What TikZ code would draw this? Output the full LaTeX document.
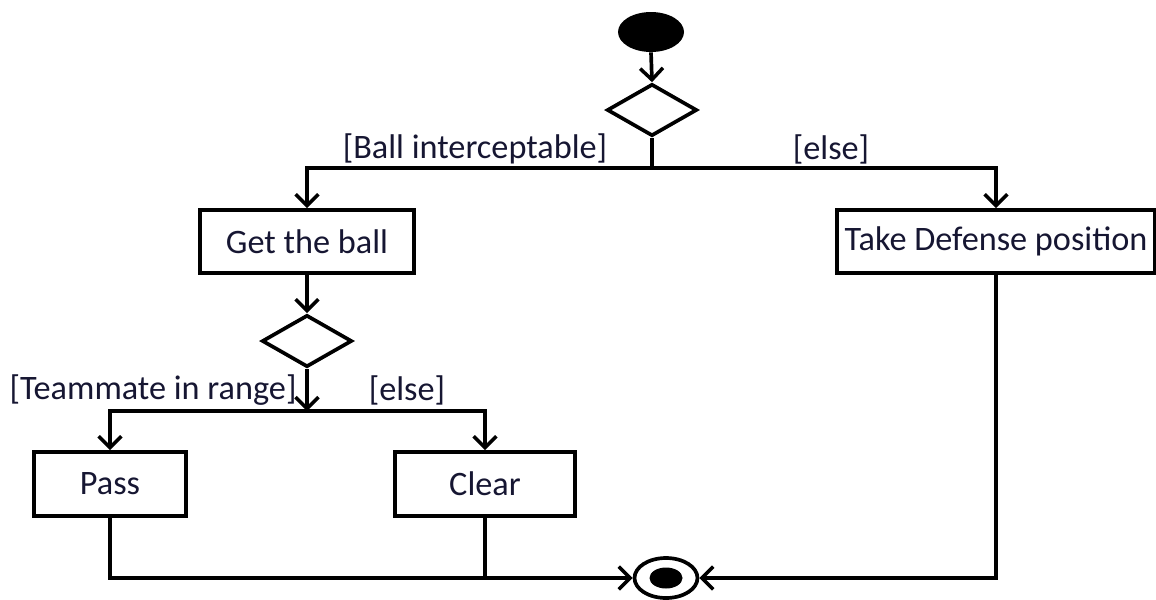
\documentclass[tikz,border=0pt]{standalone}
\usepackage{fontspec}
\setmainfont{Carlito}
\usepackage{tikz}
\usepackage{xcolor}
\usetikzlibrary{shapes.geometric,arrows.meta}

\definecolor{guardcol}{RGB}{22,22,50}
\tikzset{
    action/.style={draw, rectangle, line width=2.1pt, minimum height=1.26cm, inner xsep=2pt, font=\fontsize{19.5}{23}\selectfont, text=guardcol},
    decision/.style={draw, diamond, line width=2.1pt, minimum width=1.8cm, minimum height=1.04cm, inner sep=0pt},
    guard/.style={font=\fontsize{19.5}{23}\selectfont, text=guardcol, inner sep=0pt},
    wire/.style={line width=2.1pt},
    flow/.style={line width=2.1pt, -{Straight Barb[length=6.5pt,width=13pt,line width=2pt]}}
}

\begin{document}
\begin{tikzpicture}[x=0.02cm, y=-0.02cm]
    \useasboundingbox (0,0) rectangle (1156,599);

    % Draw the initial and final states
    \node[ellipse, fill=black, minimum width=1.32cm, minimum height=0.8cm] (start) at (651,32) {};
    \node[ellipse, draw, line width=2.1pt, minimum width=1.26cm, minimum height=0.8cm] (final) at (666,578) {};
    \node[ellipse, fill=black, minimum width=0.66cm, minimum height=0.42cm] (finalin) at (666,578) {};

    % Draw the decisions
    \node[decision] (dec1) at (652,110) {};
    \node[decision] (dec2) at (307,341) {};
    \coordinate (fork1) at (652,168);
    \coordinate (fork2) at (307,411);

    % Draw the actions
    \node[action, minimum width=4.28cm] (getball) at (307,241.5) {Get the ball};
    \node[action, minimum width=6.36cm] (defense) at (996,241.5) {Take Defense position};
    \node[action, minimum width=3.04cm, minimum height=1.28cm] (pass) at (110,484) {Pass};
    \node[action, minimum width=3.6cm, minimum height=1.28cm] (clear) at (485,484) {Clear};

    % Draw the guard labels
    \node[guard] (ballg) at (475,149) {[Ball interceptable]};
    \node[guard] (elseg) at (831,149) {[else]};
    \node[guard] (mateg) at (153,390) {[Teammate in range]};
    \node[guard] (elseh) at (407,390) {[else]};

    % Draw the upper branch
    \draw[flow] (start.south) -- (dec1.north);
    \draw[wire] (dec1.south) -- (fork1);
    \draw[flow] (fork1) -| (getball.north);
    \draw[flow] (fork1) -| (defense.north);

    % Draw the lower branch
    \draw[flow] (getball.south) -- (dec2.north);
    \draw[flow] (dec2.south) -- (fork2);
    \draw[flow] (fork2) -| (pass.north);
    \draw[flow] (fork2) -| (clear.north);

    % Draw the merge into the final state
    \coordinate (merge) at (clear.south |- final.west);
    \draw[flow] (pass.south) |- (final.west);
    \draw[wire] (clear.south) -- (merge);
    \draw[flow] (defense.south) |- (final.east);
\end{tikzpicture}
\end{document}
